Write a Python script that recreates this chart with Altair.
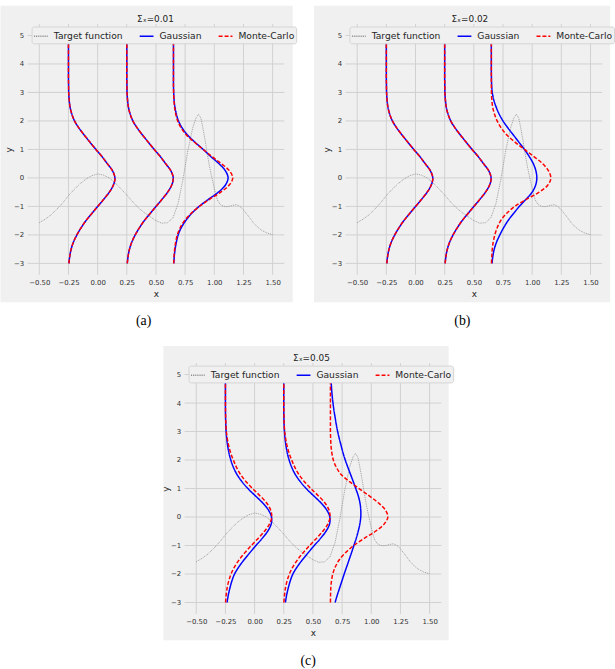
import altair as alt
import pandas as pd

# ---------------------------------------------------------------- data
SERIES = ["Target function", "Gaussian", "Monte-Carlo"]

# target function f(x)
TARGET_X = [-0.5, -0.45, -0.4, -0.35, -0.3, -0.25, -0.2, -0.15, -0.1, -0.05,
            0.0, 0.05, 0.1, 0.15, 0.2, 0.25, 0.3, 0.35, 0.4, 0.45,
            0.5, 0.55, 0.6, 0.646, 0.69, 0.73, 0.773, 0.815, 0.845, 0.865,
            0.885, 0.9, 0.92, 0.94, 0.96, 0.984, 1.005, 1.026, 1.05, 1.075,
            1.1, 1.125, 1.16, 1.19, 1.22, 1.25, 1.3, 1.336, 1.37, 1.406,
            1.45, 1.5]
TARGET_Y = [-1.57, -1.45, -1.3, -1.1, -0.88, -0.62, -0.4, -0.2, -0.04, 0.08,
            0.14, 0.1, 0.0, -0.17, -0.38, -0.6, -0.84, -1.05, -1.22, -1.36,
            -1.5, -1.59, -1.57, -1.4, -0.89, -0.08, 0.95, 1.76, 2.12, 2.23,
            2.1, 1.8, 1.35, 0.84, 0.38, -0.08, -0.45, -0.77, -0.93, -0.99,
            -1.01, -1.0, -0.96, -0.94, -1.0, -1.12, -1.38, -1.58, -1.72, -1.84,
            -1.93, -1.99]

# input locations at which the predictive densities are drawn sideways
X_ANCHORS = [-0.25, 0.25, 0.65]

# output levels y at which every density is sampled
Y_LEVELS = [-3.0, -2.75, -2.5, -2.25, -2.0, -1.75, -1.5, -1.25, -1.0, -0.75,
            -0.5, -0.25, 0.0, 0.25, 0.5, 0.75, 1.0, 1.25, 1.5, 1.75,
            2.0, 2.25, 2.5, 2.75, 3.0, 3.25, 3.5, 3.75, 4.0, 4.25,
            4.5, 4.75, 5.0]

# scaled densities p(y | x) (horizontal distance from the anchor), one per Y_LEVELS entry
DENS_OUTER_AB = [0.004, 0.011, 0.023, 0.043, 0.072, 0.108, 0.150, 0.200, 0.250, 0.302,
                 0.350, 0.385, 0.398, 0.378, 0.333, 0.287, 0.235, 0.185, 0.136, 0.090,
                 0.052, 0.028, 0.013, 0.006, 0.002, 0.001, 0.0, 0.0, 0.0, 0.0,
                 0.0, 0.0, 0.0]
DENS_A_GAUSS = [0.003, 0.007, 0.014, 0.025, 0.040, 0.066, 0.105, 0.155, 0.220, 0.300,
                0.385, 0.445, 0.468, 0.445, 0.390, 0.320, 0.255, 0.185, 0.122, 0.075,
                0.043, 0.024, 0.012, 0.005, 0.002, 0.0, 0.0, 0.0, 0.0, 0.0,
                0.0, 0.0, 0.0]
DENS_A_MC = [0.002, 0.005, 0.010, 0.019, 0.033, 0.057, 0.095, 0.150, 0.222, 0.310,
             0.405, 0.478, 0.508, 0.480, 0.410, 0.330, 0.255, 0.180, 0.113, 0.066,
             0.036, 0.019, 0.009, 0.004, 0.001, 0.0, 0.0, 0.0, 0.0, 0.0,
             0.0, 0.0, 0.0]
DENS_B_GAUSS = [0.006, 0.013, 0.025, 0.045, 0.073, 0.105, 0.143, 0.190, 0.240, 0.297,
                0.350, 0.380, 0.390, 0.382, 0.360, 0.325, 0.284, 0.237, 0.190, 0.143,
                0.100, 0.066, 0.040, 0.020, 0.008, 0.003, 0.001, 0.0, 0.0, 0.0,
                0.0, 0.0, 0.0]
DENS_B_MC = [0.001, 0.004, 0.008, 0.016, 0.030, 0.050, 0.080, 0.130, 0.200, 0.300,
             0.410, 0.485, 0.510, 0.490, 0.440, 0.365, 0.284, 0.205, 0.135, 0.085,
             0.050, 0.026, 0.011, 0.004, 0.001, 0.0, 0.0, 0.0, 0.0, 0.0,
             0.0, 0.0, 0.0]
DENS_C_OUTER_GAUSS = [0.014, 0.024, 0.038, 0.055, 0.078, 0.115, 0.160, 0.210, 0.262, 0.315,
                      0.362, 0.392, 0.395, 0.368, 0.318, 0.255, 0.192, 0.140, 0.098, 0.068,
                      0.046, 0.030, 0.019, 0.011, 0.006, 0.003, 0.001, 0.0, 0.0, 0.0,
                      0.0, 0.0, 0.0]
DENS_C_OUTER_MC = [0.001, 0.006, 0.014, 0.028, 0.048, 0.078, 0.118, 0.167, 0.222, 0.280,
                   0.335, 0.377, 0.397, 0.387, 0.352, 0.295, 0.232, 0.175, 0.128, 0.094,
                   0.068, 0.045, 0.028, 0.016, 0.008, 0.004, 0.002, 0.001, 0.0, 0.0,
                   0.0, 0.0, 0.0]
DENS_C_GAUSS = [0.040, 0.058, 0.078, 0.098, 0.118, 0.139, 0.160, 0.181, 0.201, 0.221,
                0.238, 0.252, 0.260, 0.260, 0.253, 0.238, 0.217, 0.195, 0.172, 0.149,
                0.127, 0.108, 0.092, 0.076, 0.062, 0.050, 0.040, 0.030, 0.022, 0.015,
                0.010, 0.006, 0.003]
DENS_C_MC = [0.000, 0.001, 0.003, 0.009, 0.020, 0.042, 0.076, 0.130, 0.200, 0.290,
             0.386, 0.460, 0.492, 0.470, 0.410, 0.330, 0.245, 0.160, 0.090, 0.050,
             0.025, 0.012, 0.005, 0.002, 0.0, 0.0, 0.0, 0.0, 0.0, 0.0,
             0.0, 0.0, 0.0]

PANELS = [
    {"sigma": "0.01", "caption": "(a)",
     "gauss": [DENS_OUTER_AB, DENS_OUTER_AB, DENS_A_GAUSS],
     "mc": [DENS_OUTER_AB, DENS_OUTER_AB, DENS_A_MC]},
    {"sigma": "0.02", "caption": "(b)",
     "gauss": [DENS_OUTER_AB, DENS_OUTER_AB, DENS_B_GAUSS],
     "mc": [DENS_OUTER_AB, DENS_OUTER_AB, DENS_B_MC]},
    {"sigma": "0.05", "caption": "(c)",
     "gauss": [DENS_C_OUTER_GAUSS, DENS_C_OUTER_GAUSS, DENS_C_GAUSS],
     "mc": [DENS_C_OUTER_MC, DENS_C_OUTER_MC, DENS_C_MC]},
]

X_TICKS = [-0.5, -0.25, 0.0, 0.25, 0.5, 0.75, 1.0, 1.25, 1.5]
Y_TICKS = [-3, -2, -1, 0, 1, 2, 3, 4, 5]

# ---------------------------------------------------------------- style
W, H = 260, 254
FACE = "#f0f0f0"
GRID = "#d0d0d0"
COLORS = ["#8a8a8a", "#0000ff", "#ff0000"]
DASHES = [[1, 0.9], [1, 0], [4, 2]]
FONT = "DejaVu Sans"

# grey panel face around each plot area: left, right, top, bottom
FRAMES = [(27.5, 8.5, 18.5, 27.7), (31.9, 8.1, 18.5, 27.7), (21.5, 7.5, 17.5, 26.7)]
# layout box of each panel (left, right, top, bottom), used to place the panels
BOXES = [(27.5, 8.5, 18.5, 60.0), (31.9, 8.1, 18.5, 60.0), (23.0, 7.5, 17.5, 50.0)]
TITLE_X = [129.5, 126.0, 128.5]
CAPTION_X = [117.5, 118.4, 125.2]
CAPTION_DY = [46.5, 46.5, 47.8]
INDENT_C = 135.0   # empty room to the left of panel (c)
ROW_GAP = 11.5


def legend():
    return alt.Legend(
        title=None, orient="none", legendX=4, legendY=2.5,
        direction="horizontal", symbolType="stroke", symbolSize=196,
        symbolStrokeWidth=1.5, labelFont=FONT, labelFontSize=9.3,
        labelColor="#262626", labelOffset=5, columnPadding=14, padding=1.5,
        fillColor=FACE, strokeColor="#d4d4d4", cornerRadius=2, labelLimit=0,
    )


def curves_frame(panel):
    rows = []
    for kind, name in (("gauss", "Gaussian"), ("mc", "Monte-Carlo")):
        for j, (x0, dens) in enumerate(zip(X_ANCHORS, panel[kind])):
            for k, (yv, d) in enumerate(zip(Y_LEVELS, dens)):
                rows.append({"series": name, "curve": f"{name}-{j}", "k": k,
                             "x": x0 + d, "y": yv})
    return pd.DataFrame(rows)


ONE = pd.DataFrame({"f": [0]})


def make_panel(i, panel):
    fl, fr, ft, fb = FRAMES[i]
    bl, br, bt, bb = BOXES[i]
    xs = alt.Scale(domain=[-0.6, 1.6], nice=False, zero=False)
    ys = alt.Scale(domain=[-3.4, 5.4], nice=False, zero=False)
    color = alt.Color("series:N", scale=alt.Scale(domain=SERIES, range=COLORS), legend=legend())
    dash = alt.StrokeDash("series:N", scale=alt.Scale(domain=SERIES, range=DASHES), legend=legend())
    common = dict(domain=False, ticks=False, tickSize=0, grid=False, zindex=1,
                  labelFont=FONT, labelFontSize=7, labelColor="#333333",
                  labelFlush=False, labelOverlap=False,
                  titleFont=FONT, titleFontSize=9, titleFontWeight="normal",
                  titleColor="#222222")
    xaxis = alt.Axis(values=X_TICKS, format=".2f", title="x", labelPadding=4,
                     titlePadding=4, **common)
    yaxis = alt.Axis(values=Y_TICKS, format="d", title="y", labelPadding=4,
                     titlePadding=0, **common)
    X = lambda f: alt.X(f, scale=xs, axis=xaxis)
    Y = lambda f: alt.Y(f, scale=ys, axis=yaxis)

    box = alt.Chart(ONE).mark_rect(opacity=0).encode(
        x=alt.value(-bl), x2=alt.value(W + br), y=alt.value(-bt), y2=alt.value(H + bb))
    face = alt.Chart(ONE).mark_rect(color=FACE).encode(
        x=alt.value(-fl), x2=alt.value(W + fr), y=alt.value(-ft), y2=alt.value(H + fb))

    vgrid = alt.Chart(pd.DataFrame({"v": X_TICKS})).mark_rule(
        color=GRID, strokeWidth=1).encode(x=X("v:Q"), y=alt.value(0), y2=alt.value(H))
    hgrid = alt.Chart(pd.DataFrame({"v": Y_TICKS})).mark_rule(
        color=GRID, strokeWidth=1).encode(y=Y("v:Q"), x=alt.value(0), x2=alt.value(W))

    target = pd.DataFrame({"x": TARGET_X, "y": TARGET_Y, "series": SERIES[0]})
    target["k"] = range(len(target))
    tline = alt.Chart(target).mark_line(strokeWidth=0.8).encode(
        x=X("x:Q"), y=Y("y:Q"), order="k:Q", color=color, strokeDash=dash)

    cdf = curves_frame(panel)
    layers = [box, face, vgrid, hgrid, tline]
    for name in ("Gaussian", "Monte-Carlo"):
        layers.append(
            alt.Chart(cdf[cdf["series"] == name]).mark_line(
                strokeWidth=1.5, interpolate="catmull-rom").encode(
                x=X("x:Q"), y=Y("y:Q"), detail="curve:N", order="k:Q",
                color=color, strokeDash=dash)
        )

    title = alt.Chart(pd.DataFrame({"t": [f"Σₓ={panel['sigma']}"]})).mark_text(
        font=FONT, fontSize=9, color="#222222", align="center", baseline="middle",
    ).encode(x=alt.value(TITLE_X[i]), y=alt.value(-5.5), text="t:N")
    caption = alt.Chart(pd.DataFrame({"t": [panel["caption"]]})).mark_text(
        font="Liberation Serif", fontSize=14, color="#000000",
        align="center", baseline="middle",
    ).encode(x=alt.value(CAPTION_X[i]), y=alt.value(H + CAPTION_DY[i]), text="t:N")
    layers += [title, caption]

    return alt.layer(*layers).properties(width=W, height=H)


pa, pb, pc = (make_panel(i, p) for i, p in enumerate(PANELS))

# blank block that indents the bottom panel
indent = alt.Chart(ONE).mark_rect(opacity=0).encode(
    x=alt.value(0), x2=alt.value(INDENT_C), y=alt.value(0), y2=alt.value(10)
).properties(width=INDENT_C, height=10)

indep = dict(color="independent", strokeDash="independent")
top_row = alt.hconcat(pa, pb, spacing=17).resolve_scale(**indep).resolve_legend(**indep)
bottom_row = alt.hconcat(indent, pc, spacing=0).resolve_scale(**indep).resolve_legend(**indep)

chart = alt.vconcat(top_row, bottom_row, spacing=ROW_GAP).resolve_scale(
    **indep).resolve_legend(**indep).properties(
    padding={"left": 0, "top": 1, "right": 0, "bottom": 0},
    background="white",
).configure_view(stroke=None)

chart.save("out.html", embed_options={"renderer": "svg", "actions": False})
